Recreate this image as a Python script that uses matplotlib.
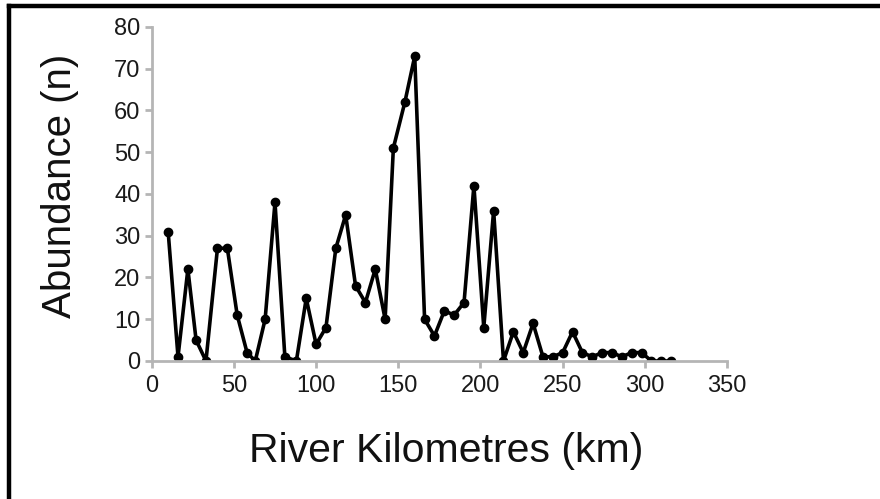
import matplotlib
matplotlib.use("Agg")
import matplotlib.pyplot as plt
from matplotlib.lines import Line2D

# river km and abundance
river_km = [10, 16, 22, 27, 33, 40, 46, 52, 58, 63, 69, 75, 81, 88,
            94, 100, 106, 112, 118, 124, 130, 136, 142, 147, 154, 160,
            166, 172, 178, 184, 190, 196, 202, 208, 214, 220, 226, 232,
            238, 244, 250, 256, 262, 268, 274, 280, 286, 292, 298, 304,
            310, 316]
abundance = [31, 1, 22, 5, 0, 27, 27, 11, 2, 0, 10, 38, 1, 0,
             15, 4, 8, 27, 35, 18, 14, 22, 10, 51, 62, 73,
             10, 6, 12, 11, 14, 42, 8, 36, 0, 7, 2, 9,
             1, 1, 2, 7, 2, 1, 2, 2, 1, 2, 2, 0,
             0, 0]
xticks = [0, 50, 100, 150, 200, 250, 300, 350]
yticks = [0, 10, 20, 30, 40, 50, 60, 70, 80]

plt.rcParams['font.family'] = ['Liberation Sans', 'DejaVu Sans']

fig = plt.figure(figsize=(8.8, 4.99), dpi=100)
ax = fig.add_axes([0.1724, 0.2766, 0.6538, 0.6693])

ax.plot(river_km, abundance, color='black', lw=2.6, marker='o', ms=6)

ax.set_xlim(0, 350)
ax.set_ylim(0, 80)
ax.set_xticks(xticks)
ax.set_yticks(yticks)
ax.spines['top'].set_visible(False)
ax.spines['right'].set_visible(False)
for s in ['left', 'bottom']:
    ax.spines[s].set_color('#b5b5b5')
    ax.spines[s].set_linewidth(2)
ax.tick_params(color='#b5b5b5', width=2, length=5, labelsize=17, labelcolor='#1a1a1a')
ax.tick_params(axis='x', pad=5)
ax.tick_params(axis='y', pad=3)

fig.text(0.068, 0.627, 'Abundance (n)', rotation=90, fontsize=29,
         ha='center', va='center', color='#111111')
fig.text(0.507, 0.097, 'River Kilometres (km)', fontsize=29.5,
         ha='center', va='center', color='#111111')

# partial frame (top and left edges)
fig.add_artist(Line2D([0.0105, 1.0], [0.9870, 0.9870], color='black', lw=3.2,
                      transform=fig.transFigure))
fig.add_artist(Line2D([0.0105, 0.0105], [0.0, 0.9870], color='black', lw=3.2,
                      transform=fig.transFigure))

fig.savefig('out.png', dpi=100)
